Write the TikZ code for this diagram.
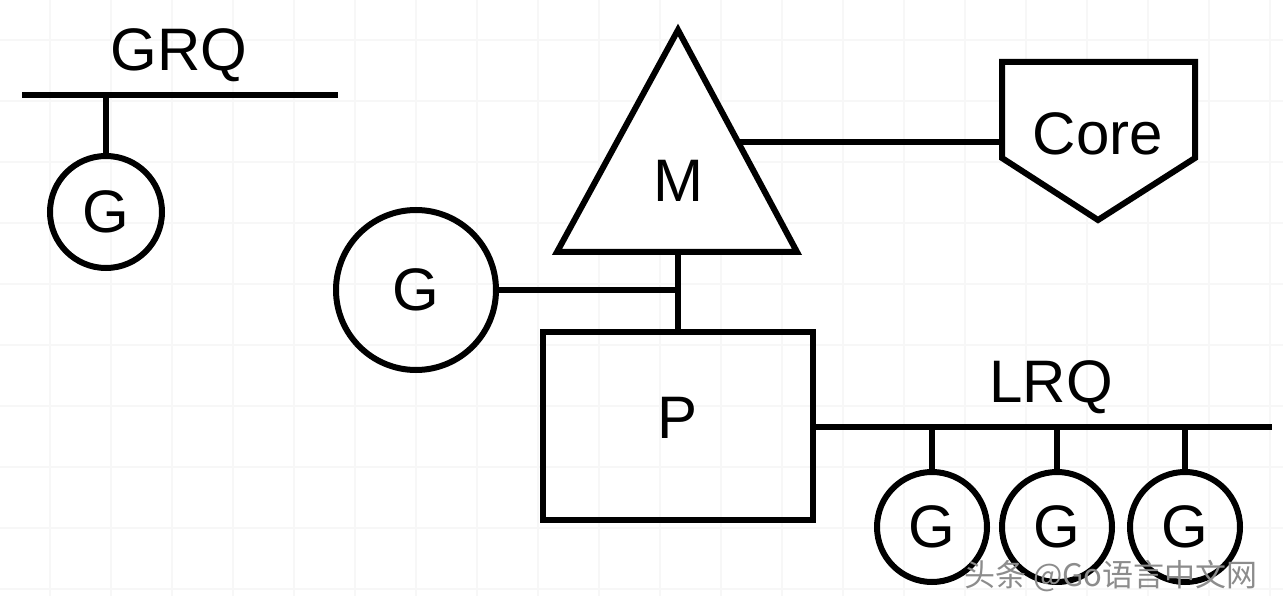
\documentclass[tikz,border=0pt]{standalone}
\usepackage{fontspec}
\setmainfont{Liberation Sans}
\newfontfamily\cjkfont{Noto Sans CJK SC}
\begin{document}
\begin{tikzpicture}[x=1pt,y=-1pt,
  ln/.style={line width=6pt},
  shp/.style={line width=6pt,line join=miter},
  lbl/.style={inner sep=0pt,font=\fontsize{60}{70}\selectfont},
  gcirc/.style={circle,draw,line width=6pt,inner sep=0pt}]
\useasboundingbox (0,0) rectangle (1283,596);
\fill[white] (0,0) rectangle (1283,596);
% faint grid
\foreach \x in {50,111,...,1283} \draw[black!3,line width=2pt] (\x,0) -- (\x,596);
\foreach \y in {40,101,...,596} \draw[black!3,line width=2pt] (0,\y) -- (1283,\y);

% GRQ
\coordinate (grqL) at (22,95);
\coordinate (grqR) at (338,95);
\coordinate (grqT) at (106,95);
\draw[ln] (grqL) -- (grqR);
\node[lbl,anchor=base] (grq) at (179,71) {GRQ};
\node[gcirc,minimum size=112pt] (g0) at (106,212) {};
\node[lbl] at (g0) {G};
\draw[ln] (grqT) -- (g0.north);

% M triangle
\draw[shp,fill=white] (678,30) -- (797,252) -- (557,252) -- cycle;
\node[lbl] (M) at (678,181) {M};
\coordinate (mR) at (738,142);
\coordinate (mB) at (678,252);

% Core
\draw[shp,fill=white] (1002,62) -- (1195,62) -- (1195,158) -- (1098,220) -- (1002,158) -- cycle;
\node[lbl] (core) at (1098,134) {Core};
\coordinate (coreL) at (1002,142);
\draw[ln] (mR) -- (coreL);

% P box
\node[draw,line width=6pt,minimum width=270pt,minimum height=188pt,inner sep=0pt] (P) at (678,426) {};
\node[lbl] at (678,418) {P};
\draw[ln] (mB) -- (P.north);

% big G
\node[gcirc,minimum size=160pt] (g1) at (416,290) {};
\node[lbl] at (g1) {G};
\coordinate (mid) at (678,290);
\draw[ln] (g1.east) -- (mid);

% LRQ
\coordinate (lrqR) at (1272,427);
\draw[ln] (P.east |- lrqR) -- (lrqR);
\node[lbl,anchor=base] (lrq) at (1051,402) {LRQ};
\foreach \i/\x in {2/932,3/1057,4/1185}{
  \node[gcirc,minimum size=110pt] (g\i) at (\x,527) {};
  \node[lbl] at (g\i) {G};
  \coordinate (t\i) at (\x,427);
  \draw[ln] (t\i) -- (g\i.north);
}

% watermark
\node[inner sep=0pt,text=black!45,font=\cjkfont\fontsize{31}{36}\selectfont] (wm) at (1111,576) {头条 @Go语言中文网};
\end{tikzpicture}
\end{document}
